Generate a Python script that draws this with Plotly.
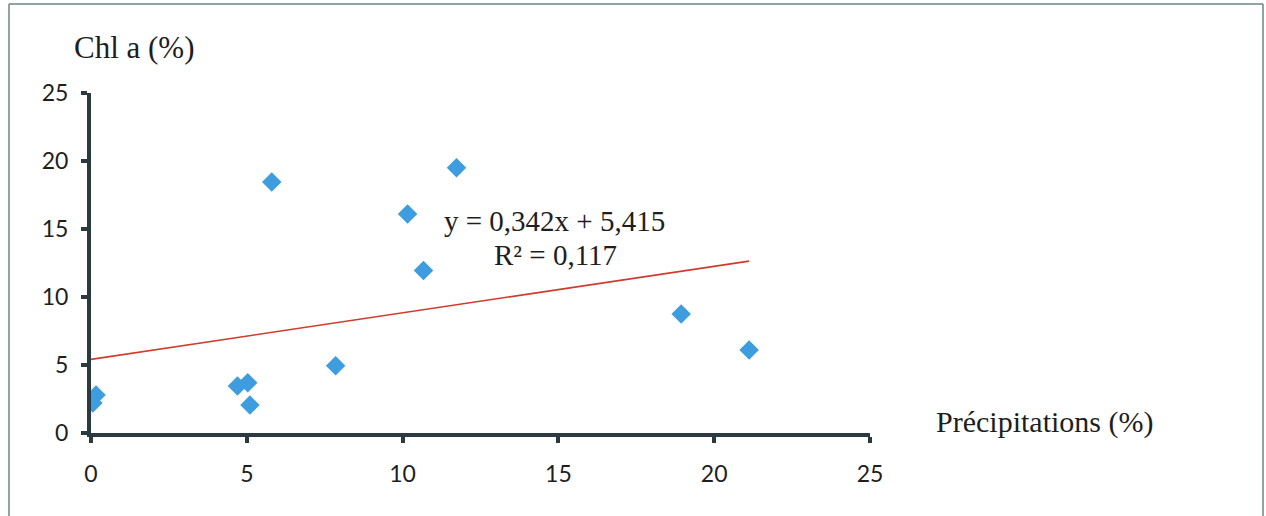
import plotly.graph_objects as go

# ---- data ----
precip = [0.16, 0.06, 4.7, 5.03, 5.1, 5.8, 7.85, 10.16, 10.67, 11.73, 18.94, 21.12]
chl = [2.8, 2.2, 3.45, 3.7, 2.05, 18.45, 4.95, 16.1, 11.95, 19.5, 8.75, 6.1]
slope = 0.342
intercept = 5.415
r2 = 0.117
x_ticks = [0, 5, 10, 15, 20, 25]
y_ticks = [0, 5, 10, 15, 20, 25]

W, H = 1266, 516
x0px, x1px = 91, 870
y0px, y1px = 433, 93

trend_x = [0, max(precip)]
trend_y = [intercept + slope * v for v in trend_x]

fig = go.Figure()
fig.add_trace(go.Scatter(x=trend_x, y=trend_y, mode="lines",
                         line=dict(color="#cf3b2c", width=1.6),
                         hoverinfo="skip", showlegend=False))
fig.add_trace(go.Scatter(x=precip, y=chl, mode="markers",
                         marker=dict(symbol="diamond", size=15, color="#3d9ddf",
                                     line=dict(width=0)),
                         showlegend=False))

axis_common = dict(
    range=[0, 25], showgrid=False, zeroline=False,
    showline=True, linecolor="#2b3a40", linewidth=4,
    ticks="outside", ticklen=6, tickwidth=4, tickcolor="#2b3a40",
    tickfont=dict(family="Lato, 'Open Sans', sans-serif", size=23, color="#1e1e1e"),
    automargin=False, fixedrange=True,
)

fig.update_layout(
    width=W, height=H,
    margin=dict(l=0, r=0, t=0, b=0),
    paper_bgcolor="white", plot_bgcolor="white",
    xaxis=dict(axis_common, domain=[x0px / W, x1px / W], tickvals=x_ticks,
               ticktext=[str(v) for v in x_ticks], ticklabelstandoff=11),
    yaxis=dict(axis_common, domain=[1 - y0px / H, 1 - y1px / H], tickvals=y_ticks,
               ticktext=[str(v) for v in y_ticks], ticklabelstandoff=8),
    showlegend=False,
)

serif = "'Liberation Serif', 'Times New Roman', serif"
fig.add_annotation(text="Chl a (%)", xref="paper", yref="paper",
                   x=72 / W, y=1 - 48 / H, xanchor="left", yanchor="middle",
                   showarrow=False, font=dict(family=serif, size=31, color="#1e1e1e"))
fig.add_annotation(text="Précipitations (%)", xref="paper", yref="paper",
                   x=934 / W, y=1 - 422 / H, xanchor="left", yanchor="middle",
                   showarrow=False, font=dict(family=serif, size=30, color="#1e1e1e"))
fig.add_annotation(text=f"y = {slope:.3f}x + {intercept:.3f}".replace(".", ","),
                   xref="paper", yref="paper",
                   x=554 / W, y=1 - 221 / H, xanchor="center", yanchor="middle",
                   showarrow=False, font=dict(family=serif, size=29, color="#1e1e1e"))
fig.add_annotation(text=f"R² = {r2:.3f}".replace(".", ","),
                   xref="paper", yref="paper",
                   x=555 / W, y=1 - 255 / H, xanchor="center", yanchor="middle",
                   showarrow=False, font=dict(family=serif, size=29, color="#1e1e1e"))

# outer frame
frame = dict(type="line", xref="paper", yref="paper",
             line=dict(color="#6b8680", width=1.5))
fig.add_shape(frame, x0=9 / W, x1=9 / W, y0=0, y1=1 - 4 / H)
fig.add_shape(frame, x0=9 / W, x1=1263 / W, y0=1 - 4 / H, y1=1 - 4 / H)
fig.add_shape(frame, x0=1263 / W, x1=1263 / W, y0=0, y1=1 - 4 / H)

fig.write_html("out.html")
